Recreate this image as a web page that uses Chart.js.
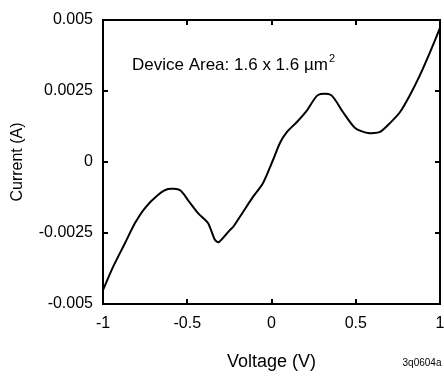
<!DOCTYPE html>
<html>
<head>
<meta charset="utf-8">
<script src="https://cdn.jsdelivr.net/npm/chart.js@4"></script>
<style>
  html, body { margin: 0; padding: 0; background: #fff; }
  #wrap { width: 444px; height: 377px; position: relative; }
</style>
</head>
<body>
<div id="wrap"><canvas id="grafica"></canvas></div>
<script>
// values
const voltage = [-1, -0.941, -0.869, -0.81, -0.751, -0.674, -0.614, -0.543, -0.496, -0.436,
  -0.377, -0.335, -0.312, -0.246, -0.228, -0.169, -0.11, -0.05, 0.009, 0.05,
  0.092, 0.151, 0.211, 0.276, 0.353, 0.424, 0.496, 0.573, 0.644, 0.703,
  0.763, 0.822, 0.881, 0.941, 1.0];
const current = [-0.00451, -0.0037, -0.00285, -0.00215, -0.00162, -0.00116, -0.00095, -0.00099, -0.00134, -0.0018,
  -0.00215, -0.00275, -0.00282, -0.00239, -0.00229, -0.00176, -0.00123, -0.00074, 0.00007, 0.00067,
  0.00106, 0.00141, 0.00182, 0.00236, 0.00236, 0.00176, 0.0012, 0.00102, 0.00106, 0.00137,
  0.00176, 0.00236, 0.00306, 0.00387, 0.00472];
const xTicks = [-1, -0.5, 0, 0.5, 1];
const yTicks = [-0.005, -0.0025, 0, 0.0025, 0.005];
const areaLabel = 'Device Area: 1.6 x 1.6 \u00b5m';
const areaSup = '2';
const figId = '3q0604a';

const FONT = "'Liberation Sans', Arial, Helvetica, sans-serif";

const framePlugin = {
  id: 'frame',
  afterDraw(chart) {
    const { ctx, chartArea: a, scales: { x, y } } = chart;
    ctx.save();
    ctx.strokeStyle = '#000';
    ctx.lineWidth = 2;
    ctx.strokeRect(a.left, a.top, a.right - a.left, a.bottom - a.top);
    const t = 5;
    ctx.beginPath();
    xTicks.forEach(v => {
      const px = Math.round(x.getPixelForValue(v));
      ctx.moveTo(px, a.bottom); ctx.lineTo(px, a.bottom - t);
      ctx.moveTo(px, a.top); ctx.lineTo(px, a.top + t);
    });
    yTicks.forEach(v => {
      const py = Math.round(y.getPixelForValue(v));
      ctx.moveTo(a.left, py); ctx.lineTo(a.left + t, py);
      ctx.moveTo(a.right, py); ctx.lineTo(a.right - t, py);
    });
    ctx.stroke();

    ctx.fillStyle = '#000';
    ctx.textBaseline = 'alphabetic';
    ctx.textAlign = 'left';
    ctx.font = '17px ' + FONT;
    const tx = x.getPixelForValue(-0.828);
    const ty = y.getPixelForValue(0.00324);
    ctx.fillText(areaLabel, tx, ty);
    const w = ctx.measureText(areaLabel).width;
    ctx.font = '11px ' + FONT;
    ctx.fillText(areaSup, tx + w + 1, ty - 8);

    ctx.font = '10px ' + FONT;
    ctx.textAlign = 'center';
    ctx.textBaseline = 'middle';
    ctx.fillText(figId, 422, 363);
    ctx.restore();
  }
};

new Chart(document.getElementById('grafica').getContext('2d'), {
  type: 'scatter',
  data: {
    datasets: [{
      data: voltage.map((v, i) => ({ x: v, y: current[i] })),
      showLine: true,
      borderColor: '#000',
      borderWidth: 2,
      pointRadius: 0,
      tension: 0.25,
      fill: false
    }]
  },
  options: {
    responsive: true,
    maintainAspectRatio: false,
    animation: false,
    layout: { padding: { top: 20, right: 4, left: 0, bottom: 0 } },
    plugins: { legend: { display: false }, tooltip: { enabled: false } },
    scales: {
      x: {
        type: 'linear',
        min: -1, max: 1,
        afterBuildTicks: s => { s.ticks = xTicks.map(v => ({ value: v })); },
        afterFit: s => { s.height = 73; s.paddingLeft = 0; s.paddingRight = 0; },
        grid: { display: false, drawTicks: false },
        border: { display: false },
        ticks: {
          padding: 10,
          color: '#000',
          font: { family: FONT, size: 16 },
          callback: v => String(v)
        },
        title: {
          display: true,
          text: 'Voltage (V)',
          color: '#000',
          font: { family: FONT, size: 18 },
          padding: { top: 0, bottom: 4 }
        }
      },
      y: {
        type: 'linear',
        min: -0.005, max: 0.005,
        afterBuildTicks: s => { s.ticks = yTicks.map(v => ({ value: v })); },
        afterFit: s => { s.width = 103; s.paddingTop = 0; s.paddingBottom = 0; },
        grid: { display: false, drawTicks: false },
        border: { display: false },
        ticks: {
          padding: 10,
          color: '#000',
          font: { family: FONT, size: 16 },
          callback: v => v === 0 ? '0' : String(+v.toFixed(4))
        },
        title: {
          display: true,
          text: 'Current (A)',
          color: '#000',
          font: { family: FONT, size: 16 },
          padding: { top: 8, bottom: 0 }
        }
      }
    }
  },
  plugins: [framePlugin]
});
</script>
</body>
</html>
